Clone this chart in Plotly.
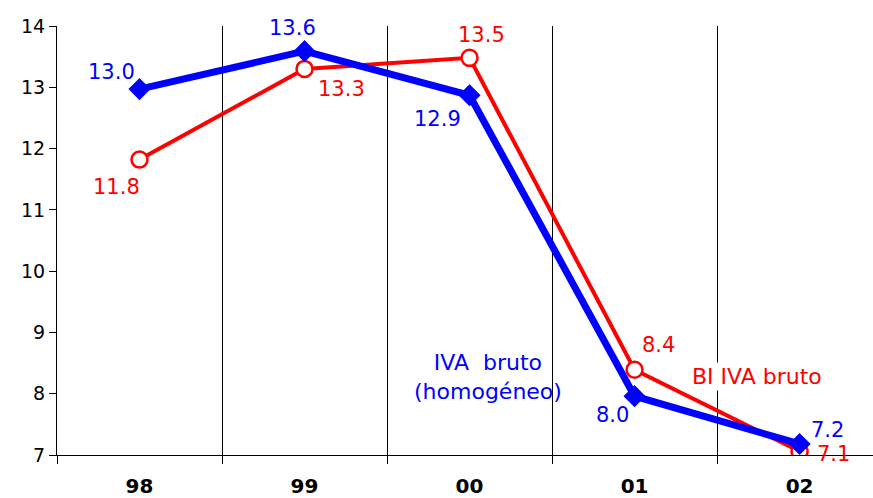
import plotly.graph_objects as go

categories = ["98", "99", "00", "01", "02"]
iva_homog = [12.97, 13.59, 12.87, 7.96, 7.18]
bi_iva = [11.82, 13.30, 13.48, 8.39, 7.06]
y_ticks = [7, 8, 9, 10, 11, 12, 13, 14]

BLUE = "#0000FF"
RED = "#FF0000"
FONT = "DejaVu Sans"

xpos = list(range(len(categories)))
bounds = [i - 0.5 for i in range(len(categories) + 1)]

fig = go.Figure()
fig.add_trace(go.Scatter(
    x=xpos, y=bi_iva, mode="lines+markers",
    line=dict(color=RED, width=4),
    marker=dict(symbol="circle", size=16, color="white", line=dict(color=RED, width=2.5)),
    showlegend=False, hoverinfo="skip"))
fig.add_trace(go.Scatter(
    x=xpos, y=iva_homog, mode="lines+markers",
    line=dict(color=BLUE, width=7),
    marker=dict(symbol="diamond", size=17, color=BLUE),
    showlegend=False, hoverinfo="skip"))

# data labels offsets (pixels)
blue_off = [(-28, 17), (-12, 23), (-32, -24), (-22, -19), (28, 14)]
red_off = [(-23, -27), (37, -20), (12, 23), (24, 25), (34, -3)]
ann = []
for i, v in enumerate(iva_homog):
    dx, dy = blue_off[i]
    ann.append(dict(x=xpos[i], y=v, text=f"{v:.1f}", showarrow=False,
                    xshift=dx, yshift=dy, font=dict(family=FONT, size=21, color=BLUE)))
for i, v in enumerate(bi_iva):
    dx, dy = red_off[i]
    ann.append(dict(x=xpos[i], y=v, text=f"{v:.1f}", showarrow=False,
                    xshift=dx, yshift=dy, font=dict(family=FONT, size=21, color=RED)))

ann.append(dict(x=2.11, y=8.27, text="IVA  bruto<br>(homogéneo)", showarrow=False,
                font=dict(family=FONT, size=22, color=BLUE), align="center"))
ann.append(dict(x=3.745, y=8.28, text="BI IVA bruto", showarrow=False, bgcolor="white",
                font=dict(family=FONT, size=22, color=RED)))

fig.update_layout(
    width=873, height=498,
    margin=dict(l=57, r=0, t=26, b=43),
    paper_bgcolor="white", plot_bgcolor="white",
    annotations=ann,
    xaxis=dict(range=[-0.5, 4.445], tickvals=xpos, ticktext=categories,
               ticks="", showgrid=False, automargin=False,
               minor=dict(tickvals=bounds, ticks="outside", ticklen=8, tickcolor="black",
                          showgrid=True, gridcolor="black", gridwidth=1),
               ticklabelstandoff=13,
               tickfont=dict(family=FONT, size=20, color="black", weight="bold"),
               showline=True, linecolor="black", linewidth=1, zeroline=False),
    yaxis=dict(range=[7, 14], tickvals=y_ticks, showgrid=False, automargin=False,
               ticks="outside", ticklen=7, tickcolor="black",
               showline=True, linecolor="black", linewidth=1, zeroline=False,
               tickfont=dict(family=FONT, size=19, color="black")),
)

fig.write_html("out.html", config={"displayModeBar": False},
               post_script="document.body.style.margin='0';")
